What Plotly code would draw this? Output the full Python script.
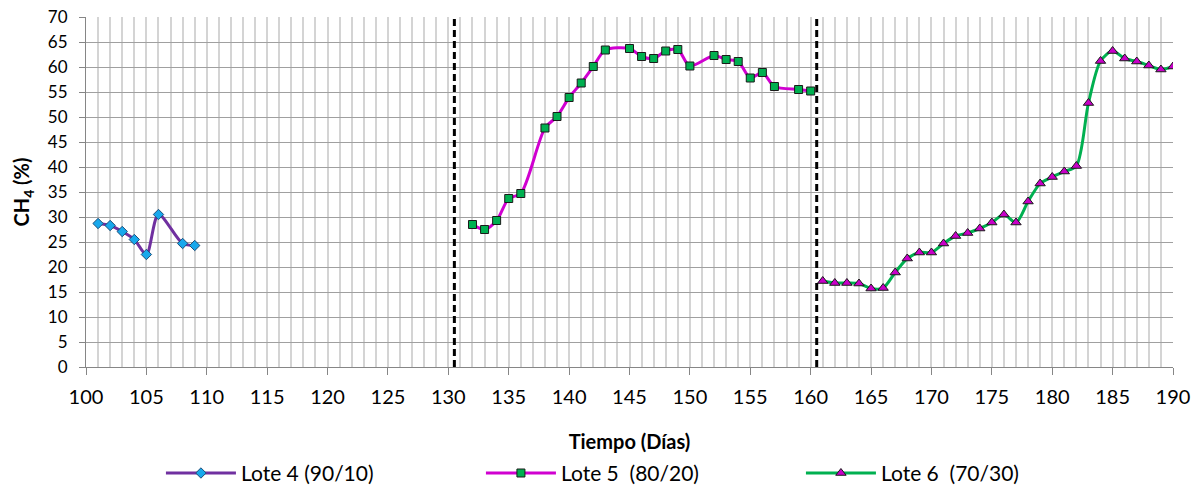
import plotly.graph_objects as go

# Lote 4 (90/10)
dias_l4 = [101, 102, 103, 104, 105, 106, 108, 109]
ch4_l4 = [28.7, 28.3, 27.1, 25.5, 22.5, 30.5, 24.7, 24.3]

# Lote 5 (80/20)
dias_l5 = [132, 133, 134, 135, 136, 138, 139, 140, 141, 142, 143, 145, 146,
           147, 148, 149, 150, 152, 153, 154, 155, 156, 157, 159, 160]
ch4_l5 = [28.5, 27.5, 29.3, 33.7, 34.7, 47.8, 50.1, 53.9, 56.8, 60.1, 63.4, 63.7, 62.1,
          61.7, 63.2, 63.5, 60.2, 62.3, 61.5, 61.1, 57.8, 58.9, 56.1, 55.5, 55.2]

# Lote 6 (70/30)
dias_l6 = list(range(161, 191))
ch4_l6 = [17.2, 16.8, 16.8, 16.7, 15.7, 15.8, 18.9, 21.7, 22.9, 22.9,
          24.7, 26.2, 26.8, 27.7, 28.9, 30.5, 28.9, 33.1, 36.7, 38.0,
          39.1, 40.2, 52.8, 61.2, 63.2, 61.7, 61.1, 60.3, 59.5, 60.1]

# batch changes
cambios_lote = [130.5, 160.5]

FONT = "Lato"

fig = go.Figure()

fig.add_trace(go.Scatter(
    x=dias_l4, y=ch4_l4, name="Lote 4 (90/10)", mode="lines+markers",
    line=dict(color="#7030A0", width=3, shape="spline", smoothing=0.8),
    marker=dict(symbol="diamond", size=8, color="#18A8EC",
                line=dict(color="#1F4E79", width=1)),
))
fig.add_trace(go.Scatter(
    x=dias_l5, y=ch4_l5, name="Lote 5\u00a0\u00a0(80/20)", mode="lines+markers",
    line=dict(color="#D000D0", width=3, shape="spline", smoothing=0.8),
    marker=dict(symbol="square", size=8, color="#00B050",
                line=dict(color="#1a1a1a", width=1)),
))
fig.add_trace(go.Scatter(
    x=dias_l6, y=ch4_l6, name="Lote 6\u00a0\u00a0(70/30)", mode="lines+markers",
    line=dict(color="#00B050", width=3, shape="spline", smoothing=0.8),
    marker=dict(symbol="triangle-up", size=9, color="#C800C8",
                line=dict(color="#1a1a1a", width=1)),
))

for xc in cambios_lote:
    fig.add_shape(type="line", xref="x", yref="y", x0=xc, x1=xc, y0=0, y1=70,
                  line=dict(color="black", width=3, dash="7px,4px"), layer="above")

fig.update_layout(
    width=1201, height=487,
    margin=dict(l=86, r=28, t=17, b=120, autoexpand=False),
    paper_bgcolor="white", plot_bgcolor="white",
    font=dict(family=FONT, color="black"),
    showlegend=True,
    legend=dict(orientation="h", xref="container", x=0.134, xanchor="left",
                yref="container", y=0.028, yanchor="middle",
                font=dict(size=21, family=FONT), itemwidth=70, entrywidth=235,
                traceorder="normal", bgcolor="rgba(0,0,0,0)"),
)

fig.update_xaxes(
    range=[100, 190], dtick=5, tick0=100,
    showgrid=True, gridcolor="#D4D4D4", gridwidth=1.5,
    minor=dict(dtick=1, showgrid=True, gridcolor="#D4D4D4", gridwidth=1.5),
    ticks="outside", ticklen=7, tickcolor="#868686", tickwidth=1,
    showline=True, linecolor="#868686", linewidth=1,
    tickfont=dict(size=20, family=FONT), ticklabelstandoff=5,
    title=dict(text="<b>Tiempo (Días)</b>", font=dict(size=20, family=FONT), standoff=28),
    zeroline=False,
)
fig.update_yaxes(
    range=[0, 70], dtick=5, tick0=0,
    showgrid=True, gridcolor="#A0A0A0", gridwidth=1,
    ticks="outside", ticklen=6, tickcolor="#868686", tickwidth=1,
    showline=True, linecolor="#868686", linewidth=1,
    tickfont=dict(size=17, family=FONT), ticklabelstandoff=8,
    title=dict(text="<b>CH<sub>4</sub> (%)</b>", font=dict(size=20, family=FONT), standoff=12),
    zeroline=False,
)

fig.write_html("out.html")
